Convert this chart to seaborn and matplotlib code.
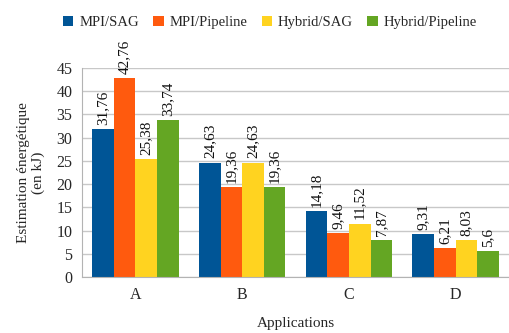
import numpy as np
import pandas as pd
import matplotlib
matplotlib.use("Agg")
import matplotlib.pyplot as plt
import seaborn as sns

applications = ["A", "B", "C", "D"]
series = ["MPI/SAG", "MPI/Pipeline", "Hybrid/SAG", "Hybrid/Pipeline"]
mpi_sag = [31.76, 24.63, 14.18, 9.31]
mpi_pipeline = [42.76, 19.36, 9.46, 6.21]
hybrid_sag = [25.38, 24.63, 11.52, 8.03]
hybrid_pipeline = [33.74, 19.36, 7.87, 5.6]
couleurs = ["#005596", "#ff5a0e", "#ffd320", "#64a623"]

valeurs = [mpi_sag, mpi_pipeline, hybrid_sag, hybrid_pipeline]
dados = pd.DataFrame({
    "app": [a for s in series for a in applications],
    "serie": [s for s in series for a in applications],
    "val": [v for vals in valeurs for v in vals],
})

sns.set_style("white")
plt.rcParams["font.family"] = ["Liberation Serif", "DejaVu Serif"]

fig, ax = plt.subplots(figsize=(5.1, 3.33), dpi=100)
fig.subplots_adjust(left=0.161, right=0.998, bottom=0.168, top=0.796)

sns.barplot(data=dados, x="app", y="val", hue="serie", order=applications,
            hue_order=series, palette=couleurs, width=0.81, saturation=1,
            linewidth=0, ax=ax, legend=True)

for cont, vals in zip(ax.containers, valeurs):
    ax.bar_label(cont, labels=[str(v).replace(".", ",") for v in vals],
                 rotation=90, padding=3, fontsize=11, color="#111111")

ax.set_ylim(0, 45)
ax.set_yticks(range(0, 46, 5))
ax.set_xlim(-0.5, 3.5)
ax.set_xticks(range(4))
ax.set_xticklabels(applications)
ax.set_xticks(np.arange(-0.5, 4, 1), minor=True)
ax.tick_params(axis="x", which="major", length=0, labelsize=11.5, pad=7)
ax.tick_params(axis="x", which="minor", length=4, color="#b3b3b3", width=1)
ax.tick_params(axis="y", length=4, color="#b3b3b3", labelsize=11.5, pad=3)
ax.yaxis.grid(True, color="#c8c8c8", linewidth=1)
ax.set_axisbelow(True)
for s in ["top", "right"]:
    ax.spines[s].set_visible(False)
for s in ["left", "bottom"]:
    ax.spines[s].set_color("#b3b3b3")

ax.set_xlabel("Applications", fontsize=11, labelpad=10)
ax.set_ylabel("Estimation énergétique\n(en kJ)", fontsize=11, labelpad=8)

ax.legend(loc="upper center", bbox_to_anchor=(0.44, 1.31), ncol=4, frameon=False,
          fontsize=10.5, handlelength=0.7, handleheight=0.7, handletextpad=0.4,
          columnspacing=1.0)

fig.savefig("out.png", dpi=100)
